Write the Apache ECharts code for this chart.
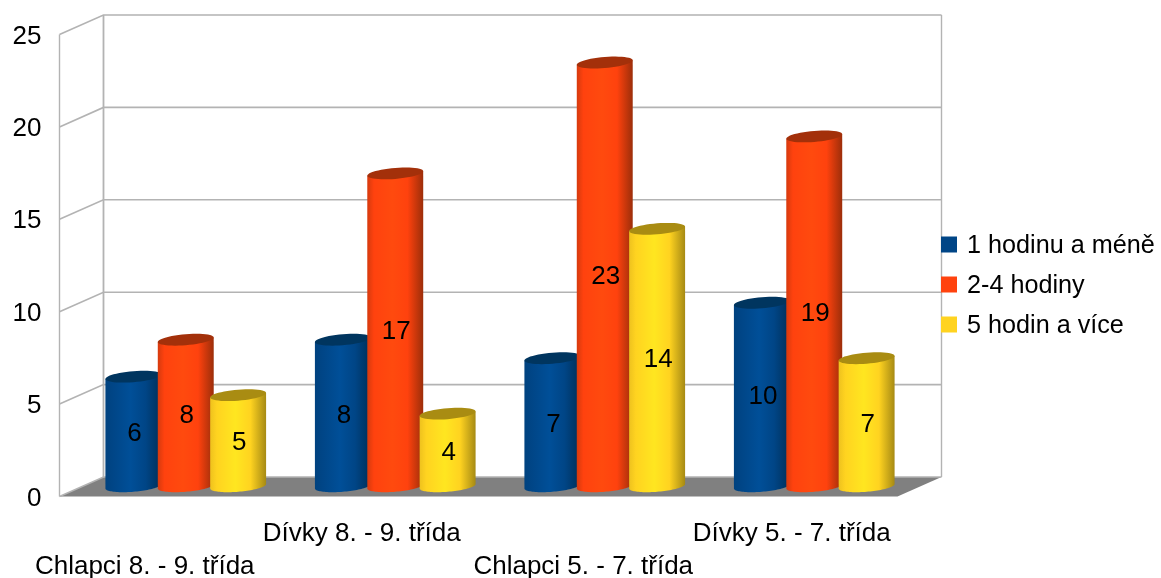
<!DOCTYPE html>
<html>
<head>
<meta charset="utf-8">
<style>html,body{margin:0;padding:0;background:#fff}#chart{width:1161px;height:578px}</style>
<script src="https://cdn.jsdelivr.net/npm/echarts@6/dist/echarts.min.js"></script>
</head>
<body>
<div id="chart"></div>
<script>
// Survey results by pupil group
const categories = ['Chlapci 8. - 9. třída', 'Dívky 8. - 9. třída', 'Chlapci 5. - 7. třída', 'Dívky 5. - 7. třída'];
const seriesNames = ['1 hodinu a méně', '2-4 hodiny', '5 hodin a více'];
const lowValues = [6, 8, 7, 10];
const midValues = [8, 17, 23, 19];
const highValues = [5, 4, 14, 7];
const yTicks = [0, 5, 10, 15, 20, 25];

// Pseudo-3D box: depth of the floor and walls in screen pixels
const DEPTH_X = 44, DEPTH_Y = -19.5;
const GRID = '#b3b3b3';
const FONT = '"Liberation Sans", Arial, sans-serif';
const FONT_SIZE = 26;
const LEGEND_FONT_SIZE = 25.2;

// Per-label placement of the staggered category row: [drop, leftward shift]
const labelPlacement = [[33, 39], [0, 24], [33, 0], [0, 2]];

const palettes = [
  { base: '#004586', top: '#00355f', edgeL: '#00427f', mid: '#004f98', edgeR: '#002f58' },
  { base: '#ff420e', top: '#a3300a', edgeL: '#d63a0e', mid: '#ff4a0e', edgeR: '#9c2e0a' },
  { base: '#ffd320', top: '#a98c12', edgeL: '#eec21e', mid: '#ffe620', edgeR: '#a68a14' }
];

function ellipsePoints(cx, cy, a, b, shear, from, to) {
  const pts = [];
  const n = 48;
  for (let i = 0; i <= n; i++) {
    const t = from + (to - from) * i / n;
    const dx = a * Math.cos(t);
    pts.push([cx + dx, cy + b * Math.sin(t) - dx * shear]);
  }
  return pts;
}

function cylinderItem(seriesIndex) {
  const pal = palettes[seriesIndex];
  return function (params, api) {
    const idx = api.value(0), val = api.value(1);
    const band = api.size([1, 0])[0];
    const pitch = band / 4;
    const w = band * 0.267, a = w / 2;
    const top = api.coord([idx, val]);
    const base = api.coord([idx, 0]);
    const cx = top[0] + DEPTH_X / 2 + (seriesIndex - 1) * pitch - 0.5;
    const yTop = top[1] + DEPTH_Y / 2 + 0.8;
    const yBase = base[1] + DEPTH_Y / 2 - 0.5;
    const shear = 0.08, b = 5.5;
    const side = ellipsePoints(cx, yBase, a, b, shear, Math.PI, 0);
    const body = [[cx - a, yTop + a * shear]].concat(side, [[cx + a, yTop - a * shear]]);
    return {
      type: 'group',
      children: [
        {
          type: 'polygon',
          shape: { points: body },
          style: {
            fill: new echarts.graphic.LinearGradient(0, 0, 1, 0, [
              { offset: 0, color: pal.edgeL },
              { offset: 0.12, color: pal.base },
              { offset: 0.45, color: pal.mid },
              { offset: 0.72, color: pal.base },
              { offset: 1, color: pal.edgeR }
            ])
          }
        },
        {
          type: 'polygon',
          shape: { points: ellipsePoints(cx, yTop, a, b, shear, 0, Math.PI * 2) },
          style: { fill: pal.top }
        },
        {
          type: 'text',
          z2: 10,
          style: {
            text: String(val),
            x: cx + 1,
            y: (yTop + yBase) / 2 + 2.5,
            align: 'center',
            verticalAlign: 'middle',
            fill: '#000',
            font: FONT_SIZE + 'px ' + FONT
          }
        }
      ]
    };
  };
}

// Floor, walls and the gridlines that fold around the back-left corner
function wallItem(params, api) {
  const tick = api.value(0);
  const rect = params.coordSys;
  const left = rect.x, right = rect.x + rect.width;
  const p = api.coord([0, tick]);
  const y = p[1];
  const children = [{
    type: 'polyline',
    shape: { points: [[left, y], [left + DEPTH_X, y + DEPTH_Y], [right + DEPTH_X, y + DEPTH_Y]] },
    style: { stroke: GRID, lineWidth: 1.6, fill: null }
  }];
  if (tick === 0) {
    const yTop = api.coord([0, yTicks[yTicks.length - 1]])[1];
    children.unshift({
      type: 'polygon',
      shape: { points: [[left, y], [left + DEPTH_X, y + DEPTH_Y], [right + DEPTH_X, y + DEPTH_Y], [right, y]] },
      style: { fill: '#808080' }
    });
    children.push(
      { type: 'line', shape: { x1: left, y1: y, x2: left, y2: yTop }, style: { stroke: GRID, lineWidth: 1.4 } },
      { type: 'line', shape: { x1: left + DEPTH_X, y1: y + DEPTH_Y, x2: left + DEPTH_X, y2: yTop + DEPTH_Y }, style: { stroke: GRID, lineWidth: 1.8 } },
      { type: 'line', shape: { x1: right + DEPTH_X, y1: y + DEPTH_Y, x2: right + DEPTH_X, y2: yTop + DEPTH_Y }, style: { stroke: GRID, lineWidth: 1.4 } }
    );
  }
  return { type: 'group', children: children };
}

const richLabels = {};
labelPlacement.forEach(function (pl, i) {
  richLabels['c' + i] = {
    fontFamily: FONT,
    fontSize: FONT_SIZE,
    color: '#000',
    padding: [pl[0], pl[1], 0, 0]
  };
});

const valueSets = [lowValues, midValues, highValues];
const chart = echarts.init(document.getElementById('chart'), null, { renderer: 'canvas' });
chart.setOption({
  animation: false,
  backgroundColor: '#fff',
  grid: { left: 59.5, top: 34.5, width: 838, height: 462, outerBoundsMode: 'none' },
  legend: {
    orient: 'vertical',
    left: 936,
    top: 228.5,
    itemWidth: 16,
    itemHeight: 16,
    itemGap: 15,
    data: seriesNames,
    icon: 'rect',
    formatter: function (name) { return '{t|' + name + '}'; },
    textStyle: {
      rich: { t: { fontFamily: FONT, fontSize: LEGEND_FONT_SIZE, color: '#000', padding: [3, 0, 0, 5] } }
    }
  },
  xAxis: {
    type: 'category',
    data: categories,
    axisLine: { show: false },
    axisTick: { show: false },
    axisLabel: {
      interval: 0,
      margin: 24.5,
      verticalAlign: 'top',
      formatter: function (value, index) { return '{c' + index + '|' + value + '}'; },
      rich: richLabels
    }
  },
  yAxis: {
    type: 'value',
    min: 0,
    max: 25,
    interval: 5,
    splitLine: { show: false },
    axisTick: { show: false },
    axisLine: { show: false },
    axisLabel: {
      margin: 18,
      formatter: function (value) { return '{t|' + value + '}'; },
      rich: { t: { fontFamily: FONT, fontSize: FONT_SIZE, color: '#000', padding: [4, 0, 0, 0] } }
    }
  },
  series: [{
    type: 'custom',
    name: 'walls',
    silent: true,
    z: 1,
    renderItem: wallItem,
    encode: { y: 0 },
    data: yTicks.map(function (t) { return [t]; })
  }].concat(seriesNames.map(function (name, s) {
    return {
      type: 'custom',
      name: name,
      z: 2 + s,
      itemStyle: { color: palettes[s].base },
      renderItem: cylinderItem(s),
      encode: { x: 0, y: 1 },
      data: valueSets[s].map(function (v, i) { return [i, v]; })
    };
  }))
});
</script>
</body>
</html>
